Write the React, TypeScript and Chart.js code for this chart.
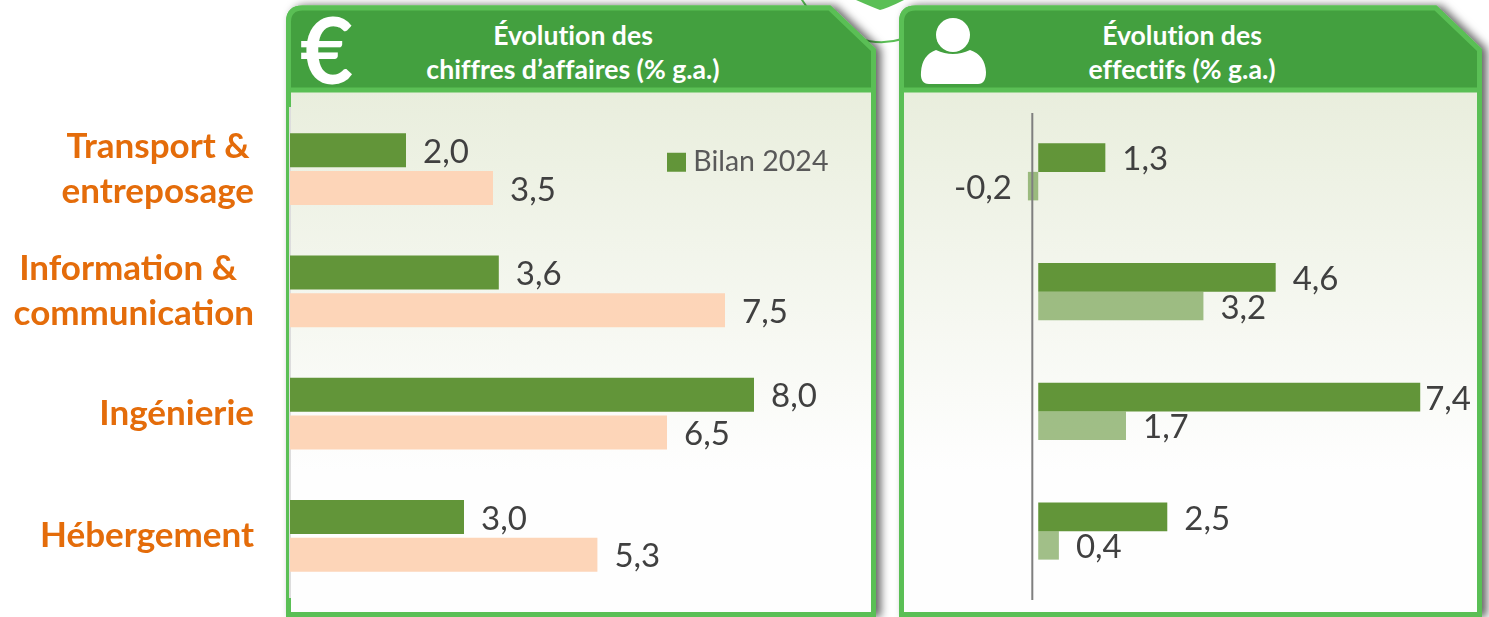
import React, { useEffect, useRef } from "react";
import { Chart, registerables } from "chart.js";

Chart.register(...registerables);

const categories: (string | string[])[] = [
  ["Transport &\u2009", "entreposage"],
  ["Information &  ", "communication"],
  "Ingénierie",
  "Hébergement",
];
const caBilan2024 = [2.0, 3.6, 8.0, 3.0];
const caPrevision = [3.5, 7.5, 6.5, 5.3];
const effectifsBilan2024 = [1.3, 4.6, 7.4, 2.5];
const effectifsPrevision = [-0.2, 3.2, 1.7, 0.4];
const legendLabel = "Bilan 2024";
const titleCa = ["Évolution des", "chiffres d’affaires (% g.a.)"];
const titleEff = ["Évolution des", "effectifs (% g.a.)"];

const FONT = "Lato, 'Open Sans', sans-serif";
const DARK = "#629539";
const PEACH = "#FDD5B8";
const LIGHT = "rgba(98,149,57,0.6)";

const fmt = (v: number) => v.toFixed(1).replace(".", ",");

const valueLabels = {
  id: "valueLabels",
  afterDatasetsDraw(chart: any) {
    const ctx = chart.ctx;
    ctx.save();
    ctx.font = `33px ${FONT}`;
    ctx.fillStyle = "#404040";
    ctx.textBaseline = "middle";
    chart.data.datasets.forEach((ds: any, i: number) => {
      chart.getDatasetMeta(i).data.forEach((bar: any, j: number) => {
        const v = ds.data[j];
        const text = fmt(v);
        if (v < 0) {
          ctx.textAlign = "right";
          ctx.fillText(text, bar.x - 16, bar.y + 2);
        } else {
          ctx.textAlign = "left";
          const w = ctx.measureText(text).width;
          const x = Math.min(bar.x + 17, chart.width - 18 - w);
          ctx.fillText(text, x, bar.y + 2);
        }
      });
    });
    ctx.restore();
  },
};

const legendPlacer = {
  id: "legendPlacer",
  afterLayout(chart: any) {
    const l = chart.legend;
    if (!l) return;
    l.left = 667;
    l.right = 840;
    l.top = 141;
    l.bottom = 180;
  },
};

const axisLine = {
  id: "axisLine",
  afterDatasetsDraw(chart: any) {
    const { ctx, chartArea, scales } = chart;
    const x = scales.x.getPixelForValue(-0.115);
    ctx.save();
    ctx.strokeStyle = "#7F7F7F";
    ctx.lineWidth = 2;
    ctx.beginPath();
    ctx.moveTo(x, chartArea.top + 1);
    ctx.lineTo(x, chartArea.bottom + 9);
    ctx.stroke();
    ctx.restore();
  },
};

function panelPath(l: number, r: number) {
  const t = 8;
  const b = 614.5;
  return `M${l} ${b} L${l} ${t + 14} Q${l} ${t} ${l + 14} ${t} L${r - 44} ${t} L${r} ${t + 42} L${r} ${b} Z`;
}
function headerPath(l: number, r: number) {
  const t = 8;
  const h = 90;
  return `M${l} ${h} L${l} ${t + 14} Q${l} ${t} ${l + 14} ${t} L${r - 44} ${t} L${r} ${t + 42} L${r} ${h} Z`;
}

function Panel({ l, r }: { l: number; r: number }) {
  return (
    <g>
      <path d={panelPath(l, r)} fill="url(#body)" stroke="#5ABF55" strokeWidth={5} filter="url(#sh)" />
      <path d={headerPath(l, r)} fill="#43A03F" stroke="#5ABF55" strokeWidth={5} />
    </g>
  );
}

function Title({ lines, cx }: { lines: string[]; cx: number }) {
  return (
    <div
      style={{
        position: "absolute",
        left: cx - 200,
        width: 400,
        top: 18,
        textAlign: "center",
        color: "#fff",
        font: `bold 26.6px/34px ${FONT}`,
        fontVariantLigatures: "none",
      }}
    >
      {lines.map((t) => (
        <div key={t}>{t}</div>
      ))}
    </div>
  );
}

export default function App() {
  const leftRef = useRef<HTMLCanvasElement>(null);
  const rightRef = useRef<HTMLCanvasElement>(null);

  useEffect(() => {
    const left = new Chart(leftRef.current!, {
      type: "bar",
      data: {
        labels: categories as any,
        datasets: [
          { label: legendLabel, data: caBilan2024, backgroundColor: DARK, categoryPercentage: 0.62, barPercentage: 0.895 },
          { label: "Prévision", data: caPrevision, backgroundColor: PEACH, categoryPercentage: 0.62, barPercentage: 0.895 },
        ],
      },
      options: {
        indexAxis: "y",
        responsive: false,
        animation: false,
        layout: { autoPadding: false, padding: { top: 108, bottom: 20, right: 5 } },
        scales: {
          x: { display: false, min: 0, max: 10, grid: { display: false } },
          y: {
            afterFit: (s: any) => {
              s.width = 290;
              s.paddingTop = 0;
              s.paddingBottom = 0;
            },
            grid: { display: false, drawTicks: false },
            border: { color: "#DDDDDD", width: 2 },
            ticks: {
              padding: 36,
              crossAlign: "near",
              color: "#E46C0A",
              font: { family: FONT, size: 35, weight: "bold", lineHeight: 1.29 },
              autoSkip: false,
            },
          },
        },
        plugins: {
          tooltip: { enabled: false },
          legend: {
            position: "chartArea",
            align: "start",
            labels: {
              generateLabels: () => [
                { text: legendLabel, fillStyle: DARK, strokeStyle: DARK, lineWidth: 14, fontColor: "#595959", datasetIndex: 0, hidden: false },
              ],
              boxWidth: 5,
              boxHeight: 5,
              padding: 7,
              color: "#595959",
              font: { family: FONT, size: 28.5 },
            },
          },
        },
      } as any,
      plugins: [valueLabels, legendPlacer],
    });

    const right = new Chart(rightRef.current!, {
      type: "bar",
      data: {
        labels: categories as any,
        datasets: [
          { label: legendLabel, data: effectifsBilan2024, backgroundColor: DARK, categoryPercentage: 0.476, barPercentage: 1 },
          { label: "Prévision", data: effectifsPrevision, backgroundColor: LIGHT, categoryPercentage: 0.476, barPercentage: 1 },
        ],
      },
      options: {
        indexAxis: "y",
        responsive: false,
        animation: false,
        layout: { padding: { top: 112, bottom: 26, left: 35, right: 12 } },
        scales: {
          x: { display: false, min: -2, max: 8.5, grid: { display: false } },
          y: { display: false, grid: { display: false } },
        },
        plugins: { legend: { display: false }, tooltip: { enabled: false } },
      } as any,
      plugins: [valueLabels, axisLine],
    });

    return () => {
      left.destroy();
      right.destroy();
    };
  }, []);

  return (
    <div style={{ position: "absolute", left: 0, top: 0, width: 1489, height: 617, overflow: "hidden", background: "#fff" }}>
      <svg width={1489} height={617} style={{ position: "absolute", left: 0, top: 0 }}>
        <defs>
          <linearGradient id="body" gradientUnits="userSpaceOnUse" x1="0" y1="93" x2="0" y2="470">
            <stop offset="0" stopColor="#E9EEDD" />
            <stop offset="1" stopColor="#FEFEFE" />
          </linearGradient>
          <filter id="sh" x="-5%" y="-5%" width="112%" height="112%">
            <feDropShadow dx="5" dy="0" stdDeviation="4" floodColor="#000" floodOpacity="0.6" />
          </filter>
        </defs>
        <path d="M800 -4 Q812 22 858 38 Q880 46 902 39" fill="none" stroke="#5ABF55" strokeWidth={2} />
        <path d="M856 0 Q872 7 880 10 Q888 8 904 0 Z" fill="#5ABF55" />
        <Panel l={288.5} r={873.5} />
        <Panel l={901.5} r={1479.5} />
        <g fill="#fff">
          <ellipse cx="953" cy="35" rx="17" ry="17" />
          <path d="M936 50 Q953 58 970 50 Q985 55 986 72 Q986 84 978 84 L929 84 Q920 84 921 72 Q922 55 936 50 Z" />
        </g>
      </svg>
      <div style={{ position: "absolute", left: 300, top: 5, color: "#fff", font: `bold 92px/88px ${FONT}` }}>€</div>
      <Title lines={titleCa} cx={573} />
      <Title lines={titleEff} cx={1182} />
      <canvas ref={leftRef} width={875} height={617} style={{ position: "absolute", left: 0, top: 0 }} />
      <canvas ref={rightRef} width={589} height={617} style={{ position: "absolute", left: 900, top: 0 }} />
    </div>
  );
}
